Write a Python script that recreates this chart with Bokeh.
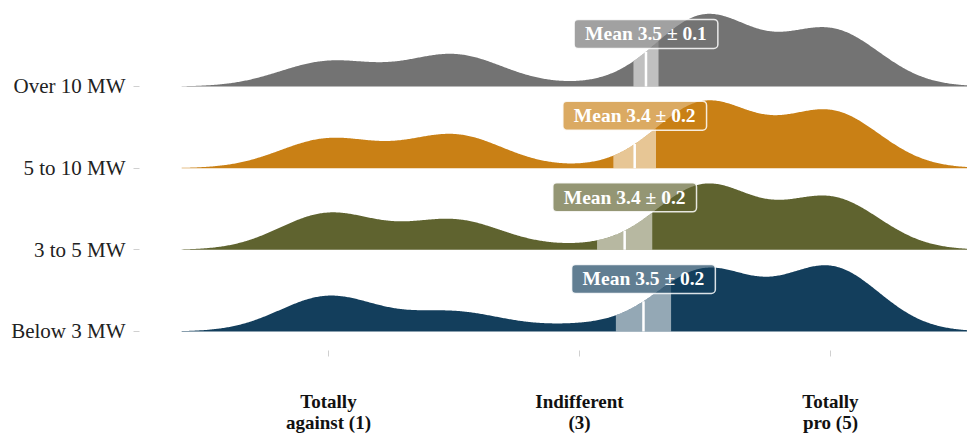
import numpy as np
from bokeh.plotting import figure
from bokeh.models import ColumnDataSource, Range1d, FixedTicker
from bokeh.core.properties import value
from bokeh.embed import file_html
from bokeh.resources import INLINE

# Answer scale and axis labels
levels = [1, 2, 3, 4, 5]
tick_values = [1, 3, 5]
tick_labels = ["Totally\nagainst (1)", "Indifferent\n(3)", "Totally\npro (5)"]

# Plant size classes, bottom row first
size_classes = ["Below 3 MW", "3 to 5 MW", "5 to 10 MW", "Over 10 MW"]
colors = ["#133E5C", "#5F632F", "#C98015", "#737373"]

# Share of respondents (%) giving each answer 1..5
share_below3 = [19.0, 10.4, 3.2, 33.0, 34.4]
share_3to5 = [19.6, 15.9, 2.0, 34.7, 27.8]
share_5to10 = [15.7, 17.9, 0.7, 35.4, 30.3]
share_over10 = [13.4, 17.1, 1.1, 38.0, 30.4]

# Mean score and half-width of its confidence interval per class
mean_scores = [3.51, 3.36, 3.44, 3.53]
ci_halfwidths = [0.22, 0.22, 0.17, 0.10]

shares = [share_below3, share_3to5, share_5to10, share_over10]

BANDWIDTH = 0.39
RIDGE_HEIGHT = 0.89  # tallest ridge as a fraction of the row spacing
LABEL_OFFSET = 0.643  # mean label position above each baseline

lv = np.array(levels, dtype=float)


def kde(x, weights):
    w = np.asarray(weights, dtype=float)
    w = w / w.sum()
    z = (np.asarray(x)[:, None] - lv[None, :]) / BANDWIDTH
    return (w[None, :] * np.exp(-0.5 * z ** 2)).sum(axis=1) / (BANDWIDTH * np.sqrt(2 * np.pi))


grid = np.linspace(lv.min() - 3 * BANDWIDTH, lv.max() + 3 * BANDWIDTH, 700)
dens = [kde(grid, s) for s in shares]
scale = RIDGE_HEIGHT / max(d.max() for d in dens)

p = figure(
    width=967, height=435,
    x_range=Range1d(-0.506, 6.092), y_range=Range1d(-0.233, 4.053),
    output_backend="svg", toolbar_location=None,
    min_border_left=139, min_border_right=0, min_border_top=0, min_border_bottom=85,
)
p.outline_line_color = None
p.background_fill_color = "white"
p.border_fill_color = "white"
p.grid.visible = False

for i, (name, col, d, m, c) in enumerate(zip(size_classes, colors, dens, mean_scores, ci_halfwidths)):
    base = float(i)
    p.varea(x=grid, y1=np.full_like(grid, base), y2=base + d * scale, fill_color=col)

    # confidence band under the curve
    bx = np.linspace(m - c, m + c, 80)
    by = base + kde(bx, shares[i]) * scale
    p.varea(x=bx, y1=np.full_like(bx, base), y2=by, fill_color="white", fill_alpha=0.55)

    # mean line
    top = base + kde([m], shares[i])[0] * scale
    p.segment(x0=[m], y0=[base], x1=[m], y1=[top], line_color="white", line_width=2.5)

    src = ColumnDataSource(dict(x=[m], y=[base + LABEL_OFFSET],
                                text=[f"Mean {m:.1f} \u00b1 {c:.1f}"]))
    p.text(x="x", y="y", text="text", source=src,
           text_align="center", text_baseline="middle",
           text_font=value("Liberation Serif"), text_font_style="bold",
           text_font_size="19.5px", text_color="white",
           background_fill_color=col, background_fill_alpha=0.67,
           border_line_color="white", border_line_width=1.5, border_line_alpha=0.85,
           border_radius=4, padding=dict(left=11, right=11, top=4, bottom=4))

# x axis
p.xaxis.ticker = FixedTicker(ticks=tick_values)
p.xaxis.major_label_overrides = {v: t for v, t in zip(tick_values, tick_labels)}
p.xaxis.axis_line_color = None
p.xaxis.major_tick_line_color = "#d0d0d0"
p.xaxis.major_tick_out = 6
p.xaxis.major_tick_in = 0
p.xaxis.minor_tick_line_color = None
p.xaxis.major_label_standoff = 34
p.xaxis.major_label_text_font = "Liberation Serif"
p.xaxis.major_label_text_font_style = "bold"
p.xaxis.major_label_text_font_size = "19px"
p.xaxis.major_label_text_line_height = 1.0
p.xaxis.major_label_text_color = "#111111"

# y axis
p.yaxis.ticker = FixedTicker(ticks=[0, 1, 2, 3])
p.yaxis.major_label_overrides = {i: n for i, n in enumerate(size_classes)}
p.yaxis.axis_line_color = None
p.yaxis.major_tick_line_color = "#d0d0d0"
p.yaxis.major_tick_out = 6
p.yaxis.major_tick_in = 0
p.yaxis.minor_tick_line_color = None
p.yaxis.major_label_standoff = 8
p.yaxis.major_label_text_font = "Liberation Serif"
p.yaxis.major_label_text_font_size = "21px"
p.yaxis.major_label_text_color = "#222222"

open("out.html", "w").write(file_html(p, INLINE))
